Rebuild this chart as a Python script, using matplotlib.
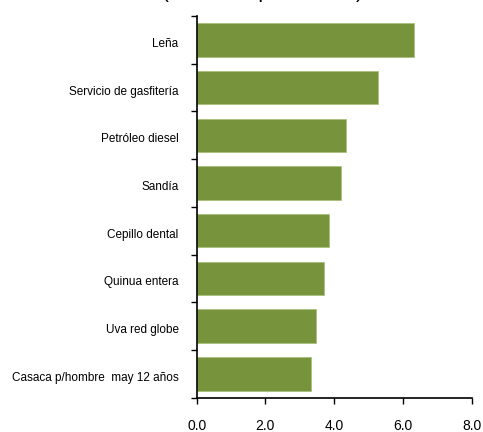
import numpy as np
import matplotlib
matplotlib.use("Agg")
import matplotlib.pyplot as plt
import matplotlib.transforms as mtransforms

plt.rcParams['font.family'] = ['Liberation Sans', 'DejaVu Sans']

# datos (de arriba hacia abajo en el grafico)
productos = ["Leña", "Servicio de gasfitería", "Petróleo diesel", "Sandía",
             "Cepillo dental", "Quinua entera", "Uva red globe",
             "Casaca p/hombre  may 12 años"]
valores = [6.32, 5.28, 4.34, 4.21, 3.84, 3.70, 3.46, 3.33]
xticks = [0.0, 2.0, 4.0, 6.0, 8.0]

COLOR_BARRA = "#77933C"

fig = plt.figure(figsize=(4.83, 4.32), dpi=100)
ax = fig.add_axes([0.4072, 0.0794, 0.5694, 0.8836])

n = len(productos)
pos = np.arange(n)[::-1]
ax.barh(pos, valores, height=0.70, color=COLOR_BARRA,
        edgecolor="#A9C27F", linewidth=0.6, zorder=2)

ax.set_xlim(0, 8)
ax.set_ylim(-0.5, n - 0.5)
ax.set_xticks(xticks)
ax.set_xticklabels([f"{v:.1f}" for v in xticks], fontsize=10)
ax.set_yticks(pos)
ax.set_yticklabels(productos, fontsize=8.5)
ax.set_yticks(np.arange(-0.5, n, 1.0), minor=True)

ax.tick_params(axis='y', which='major', length=0, pad=13)
ax.tick_params(axis='y', which='minor', length=4, width=1, direction='out')
ax.tick_params(axis='x', length=4, width=1, direction='out', pad=11)

# las etiquetas del original quedan un poco mas abajo que el centro de la barra
desplazo = mtransforms.ScaledTranslation(0, -2.5 / 100, fig.dpi_scale_trans)
for lab in ax.get_yticklabels():
    lab.set_transform(lab.get_transform() + desplazo)

for s in ['top', 'right']:
    ax.spines[s].set_visible(False)
for s in ['left', 'bottom']:
    ax.spines[s].set_linewidth(1.2)

# titulo cortado en el borde superior
fig.text(262 / 483, 1.0 + 2.5 / 432, "(variación porcentual)", fontsize=15,
         ha='center', va='baseline')

plt.savefig("out.png", dpi=100)
